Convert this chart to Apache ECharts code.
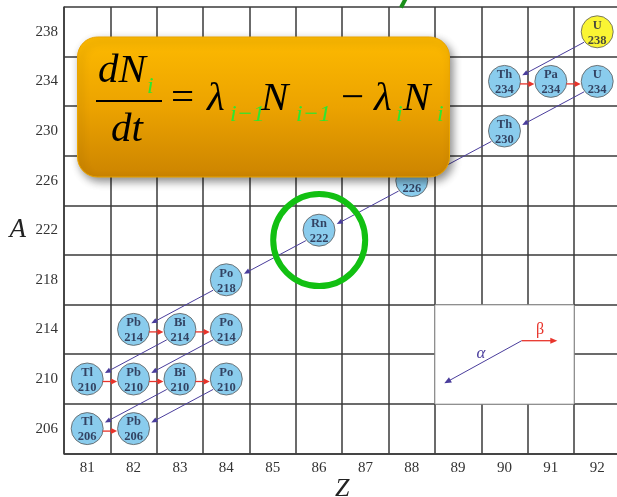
<!DOCTYPE html>
<html><head><meta charset="utf-8">
<script src="https://cdn.jsdelivr.net/npm/echarts@6/dist/echarts.min.js"></script>
<style>html,body{margin:0;padding:0;background:#fff;overflow:hidden}#c{width:617px;height:497px}</style>
</head><body><div id="c"></div>
<script>
// ---- data ----
const zTicks = ['81','82','83','84','85','86','87','88','89','90','91','92'];
const aTicks = ['206','210','214','218','222','226','230','234','238'];

const nuclideSymbol = ['U','Th','Pa','U','Th','Ra','Rn','Po','Pb','Bi','Po','Tl','Pb','Bi','Po','Tl','Pb'];
const nuclideZ      = [92, 90, 91, 92, 90, 88, 86, 84, 82, 83, 84, 81, 82, 83, 84, 81, 82];
const nuclideA      = [238,234,234,234,230,226,222,218,214,214,214,210,210,210,210,206,206];

const alphaFromZ = [92, 92, 90, 88, 86, 84, 83, 84, 83, 84];
const alphaFromA = [238,234,230,226,222,218,214,214,210,210];
const alphaToZ   = [90, 90, 88, 86, 84, 82, 81, 82, 81, 82];
const alphaToA   = [234,230,226,222,218,214,210,210,206,206];

const betaFromZ = [90, 91, 82, 83, 81, 82, 83, 81];
const betaFromA = [234,234,214,214,210,210,210,206];
const betaToZ   = [91, 92, 83, 84, 82, 83, 84, 82];
const betaToA   = [234,234,214,214,210,210,210,206];

// ---- styles ----
const SERIF = '"Liberation Serif","Times New Roman",serif';
const BLUE = '#6dbfe9', YELLOW = '#f9f200';
const ALPHA_C = '#4a3d9c', BETA_C = '#e8342b';
const GRID_C = '#3a3a3a';

function arrowShapes(p, d, color, lw, s0, s1, off, hl, hw) {
  const dx = d[0]-p[0], dy = d[1]-p[1];
  const L = Math.hypot(dx, dy);
  const ux = dx/L, uy = dy/L;
  const nx = uy, ny = -ux;
  const sx = p[0] + ux*s0 + nx*off, sy = p[1] + uy*s0 + ny*off;
  const ex = d[0] - ux*s1 + nx*off, ey = d[1] - uy*s1 + ny*off;
  const bx = ex - ux*hl, by = ey - uy*hl;
  return [
    {type:'line', shape:{x1:sx,y1:sy,x2:bx+ux*1,y2:by+uy*1}, style:{stroke:color,lineWidth:lw}},
    {type:'polygon', shape:{points:[[ex,ey],[bx+nx*hw,by+ny*hw],[bx-nx*hw,by-ny*hw]]}, style:{fill:color}}
  ];
}

const chart = echarts.init(document.getElementById('c'), null, {renderer:'canvas'});

function ftext(txt, x, base, size, color, italic) {
  return {type:'text', z:12, style:{text:txt, x:x, y:base - 0.31*size, textAlign:'left', textVerticalAlign:'middle', verticalAlign:'middle',
    font:(italic?'italic ':'') + size + 'px ' + SERIF, fill:color}};
}
const GREEN_T = '#2fe62f';
const M = 41, S = 24;

const option = {
  animation:false,
  backgroundColor:'#fff',
  grid:{left:64, top:7, width:556.4, height:446.4, containLabel:false, outerBoundsMode:'none'},
  xAxis:[
    {type:'category', data:zTicks, boundaryGap:true, position:'bottom',
     axisLine:{show:true, lineStyle:{color:GRID_C, width:1.5}}, axisTick:{show:false},
     axisLabel:{fontFamily:SERIF, fontSize:15, color:'#333', margin:7},
     splitLine:{show:true, lineStyle:{color:GRID_C, width:1.5}},
     name:'Z', nameLocation:'middle', nameGap:23, nameMoveOverlap:false,
     nameTextStyle:{fontFamily:SERIF, fontStyle:'italic', fontSize:26, color:'#222'}},
    {type:'value', min:80.5, max:92.5, show:false}
  ],
  yAxis:[
    {type:'category', data:aTicks, boundaryGap:true, position:'left',
     axisLine:{show:true, lineStyle:{color:GRID_C, width:1.5}}, axisTick:{show:false},
     axisLabel:{fontFamily:SERIF, fontSize:15, color:'#333', margin:6},
     splitLine:{show:true, lineStyle:{color:GRID_C, width:1.5}},
     name:'A', nameLocation:'middle', nameRotate:0, nameGap:38,
     nameTextStyle:{fontFamily:SERIF, fontStyle:'italic', fontSize:27, color:'#222'}},
    {type:'value', min:204, max:240, show:false}
  ],
  series:[
    {type:'custom', name:'alpha', xAxisIndex:1, yAxisIndex:1, z:3, silent:true,
     data: alphaFromZ.map((z,i)=>[z, alphaFromA[i], alphaToZ[i], alphaToA[i]]),
     renderItem:(params, api)=>{
       const p = api.coord([api.value(0), api.value(1)]);
       const d = api.coord([api.value(2), api.value(3)]);
       return {type:'group', children: arrowShapes(p, d, ALPHA_C, 1, 16.5, 18.5, 3, 6, 2.6)};
     }},
    {type:'custom', name:'beta', xAxisIndex:1, yAxisIndex:1, z:3, silent:true,
     data: betaFromZ.map((z,i)=>[z, betaFromA[i], betaToZ[i], betaToA[i]]),
     renderItem:(params, api)=>{
       const p = api.coord([api.value(0), api.value(1)]);
       const d = api.coord([api.value(2), api.value(3)]);
       return {type:'group', children: arrowShapes(p, d, BETA_C, 1.3, 15.5, 16.5, -2.5, 6, 3)};
     }},
    {type:'scatter', name:'nuclides', xAxisIndex:1, yAxisIndex:1, z:2, symbol:'circle', symbolSize:32,
     data: nuclideZ.map((z,i)=>({name:nuclideSymbol[i], value:[z, nuclideA[i]],
        itemStyle:{color: i===0 ? YELLOW : BLUE}})),
     itemStyle:{borderColor:'#5a5a5a', borderWidth:1},
     label:{show:true, position:'inside', formatter:(p)=>p.name + '\n' + p.value[1],
        fontFamily:SERIF, fontWeight:'bold', fontSize:12.5, lineHeight:15, color:'#1c1f3e', offset:[0,1]}}
  ],
  graphic:[
    // legend box
    {type:'rect', z:1, shape:{x:435, y:305, width:139, height:99}, style:{fill:'#fff', stroke:'#b5b5b5', lineWidth:1}},
    {type:'group', z:1, children: arrowShapes([521.7,340.7],[444.3,383.3], ALPHA_C, 1, 0, 0, 0, 7, 3)
        .concat(arrowShapes([521.7,340.7],[570,340.7], BETA_C, 1.3, 0, 12.7, 0, 7, 3))
        .map(e=>Object.assign(e,{z:2}))},
    {type:'text', z:2, style:{text:'α', x:481, y:354, textAlign:'center', textVerticalAlign:'middle', verticalAlign:'middle', font:'italic 17px '+SERIF, fill:ALPHA_C}},
    {type:'text', z:2, style:{text:'β', x:540, y:330, textAlign:'center', textVerticalAlign:'middle', verticalAlign:'middle', font:'16px '+SERIF, fill:BETA_C}},
    // green highlight circle
    {type:'circle', z:5, shape:{cx:319.2, cy:240, r:46}, style:{fill:'none', stroke:'#12c012', lineWidth:6}},
    // green stroke at top edge
    {type:'line', z:5, shape:{x1:401, y1:7.5, x2:405.5, y2:-1}, style:{stroke:'#1a8f1a', lineWidth:4}},
    // orange formula box
    {type:'rect', z:10, shape:{x:77.5, y:37, width:372, height:140, r:20},
     style:{fill:new echarts.graphic.LinearGradient(0,0,0,1,[{offset:0,color:'#fdba00'},{offset:0.5,color:'#eca300'},{offset:1,color:'#cc8400'}]),
        stroke:'#eaa400', lineWidth:1, shadowBlur:8, shadowColor:'rgba(0,0,0,0.45)', shadowOffsetX:3, shadowOffsetY:4}},
    ftext('dN', 98, 84, M, '#000', true),
    ftext('i', 147, 94, S, GREEN_T, true),
    {type:'rect', z:12, shape:{x:96, y:100, width:66, height:2}, style:{fill:'#000'}},
    ftext('dt', 111, 143, M, '#000', true),
    ftext('=', 171, 112, M, '#000', false),
    ftext('λ', 207, 112, M, '#000', true),
    ftext('i−1', 230, 122, S, GREEN_T, true),
    ftext('N', 261, 112, M, '#000', true),
    ftext('i−1', 296, 122, S, GREEN_T, true),
    ftext('−', 341, 112, M, '#000', false),
    ftext('λ', 374, 112, M, '#000', true),
    ftext('i', 396, 122, S, GREEN_T, true),
    ftext('N', 403, 112, M, '#000', true),
    ftext('i', 437, 122, S, GREEN_T, true)
  ]
};
chart.setOption(option);
</script></body></html>
